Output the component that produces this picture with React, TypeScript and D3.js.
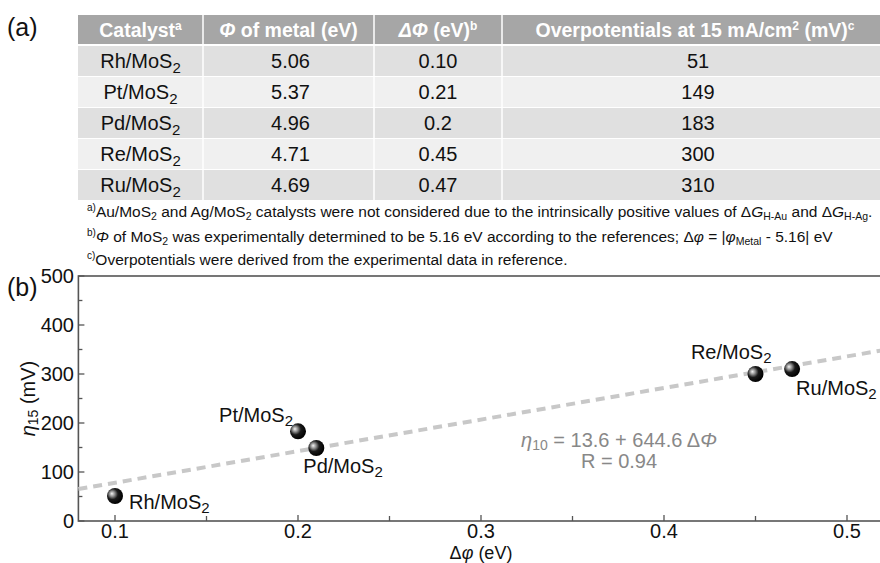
import React from "react";
import * as d3 from "d3";

// ---- table data ----
const catalystMetals = ["Rh", "Pt", "Pd", "Re", "Ru"];
const metalWorkFunctions = ["5.06", "5.37", "4.96", "4.71", "4.69"];
const deltaPhiLabels = ["0.10", "0.21", "0.2", "0.45", "0.47"];
const overpotentialLabels = ["51", "149", "183", "300", "310"];

// ---- scatter data ----
const pointNames = ["Rh", "Pt", "Pd", "Re", "Ru"];
const pointDeltaPhi = [0.1, 0.2, 0.21, 0.45, 0.47];
const pointEta = [51, 183, 149, 300, 310];

// linear fit
const fitIntercept = 13.6;
const fitSlope = 644.6;
const fitR = 0.94;

// axis ticks
const xMajorTicks = [0.1, 0.2, 0.3, 0.4, 0.5];
const xMinorTicks = [0.15, 0.25, 0.35, 0.45];
const yMajorTicks = [0, 100, 200, 300, 400, 500];
const yMinorTicks = [50, 150, 250, 350, 450];

// label anchoring for each point (layout only)
const labelLayout: Record<string, { dx: number; dy: number; anchor: "start" | "end" }> = {
  Rh: { dx: 14, dy: 13, anchor: "start" },
  Pt: { dx: -5, dy: -9, anchor: "end" },
  Pd: { dx: -13, dy: 25, anchor: "start" },
  Re: { dx: 16, dy: -15, anchor: "end" },
  Ru: { dx: 4, dy: 26, anchor: "start" },
};

const FONT = "'Liberation Sans', Arial, Helvetica, sans-serif";

const W = 880;
const H = 563;

// table geometry
const colEdges = [78, 203, 374, 502, 888];
const headerTop = 15;
const headerBottom = 44;
const rowTop = 46;
const rowH = 31;

const MoS2 = ({ metal, size, subSize, drop }: { metal: string; size: number; subSize: number; drop: number }) => (
  <>
    <tspan fontSize={size}>{metal}/MoS</tspan>
    <tspan fontSize={subSize} dy={drop}>2</tspan>
  </>
);

export default function App() {
  const x = d3.scaleLinear().domain([0.08, 0.52]).range([78.4, 883.6]);
  const y = d3.scaleLinear().domain([0, 500]).range([521, 276]);

  const fitLine = d3
    .line<number>()
    .x((d) => x(d))
    .y((d) => y(fitIntercept + fitSlope * d));

  const colCenters = colEdges.slice(0, -1).map((e, i) => (e + colEdges[i + 1]) / 2);
  const bodyColumns = [null, metalWorkFunctions, deltaPhiLabels, overpotentialLabels];

  return (
    <svg
      width={W}
      height={H}
      style={{ position: "absolute", left: 0, top: 0, background: "#fff" }}
      fontFamily={FONT}
    >
      <defs>
        <radialGradient id="ball" cx="0.38" cy="0.4" r="0.62" fx="0.3" fy="0.35">
          <stop offset="0" stopColor="#f4f4f4" />
          <stop offset="0.28" stopColor="#8a8a8a" />
          <stop offset="0.55" stopColor="#1a1a1a" />
          <stop offset="1" stopColor="#000" />
        </radialGradient>
      </defs>

      {/* ---------- (a) table ---------- */}
      <text x={7} y={36} fontSize={25} fill="#111">(a)</text>

      <rect x={colEdges[0]} y={headerTop} width={colEdges[4] - colEdges[0]} height={headerBottom - headerTop} fill="#a6a6a6" />
      {catalystMetals.map((_, i) => (
        <rect
          key={"row" + i}
          x={colEdges[0]}
          y={rowTop + i * rowH}
          width={colEdges[4] - colEdges[0]}
          height={rowH - 1}
          fill={i % 2 === 0 ? "#e0e0e0" : "#f0f0f0"}
        />
      ))}
      {colEdges.slice(1, -1).map((e) => (
        <line key={"sep" + e} x1={e} x2={e} y1={headerTop} y2={rowTop + 5 * rowH} stroke="#fff" strokeWidth={1.5} />
      ))}

      {/* header */}
      <g fill="#fff" fontWeight="bold" fontSize={19.5} textAnchor="middle">
        <text x={colCenters[0]} y={37}>
          Catalyst<tspan fontSize={12} dy={-7}>a</tspan>
        </text>
        <text x={colCenters[1]} y={37}>
          <tspan fontStyle="italic">Φ</tspan> of metal (eV)
        </text>
        <text x={colCenters[2]} y={37}>
          <tspan fontStyle="italic">ΔΦ</tspan> (eV)<tspan fontSize={12} dy={-7}>b</tspan>
        </text>
        <text x={colCenters[3]} y={37}>
          Overpotentials at 15 mA/cm<tspan fontSize={12} dy={-7}>2</tspan>
          <tspan dy={7}> (mV)</tspan>
          <tspan fontSize={12} dy={-7}>c</tspan>
        </text>
      </g>

      {/* body */}
      <g fill="#111" fontSize={20} textAnchor="middle">
        {catalystMetals.map((m, i) => {
          const base = rowTop + i * rowH + 22;
          return (
            <g key={"cells" + m}>
              <text x={colCenters[0]} y={base}>
                <MoS2 metal={m} size={20} subSize={15} drop={5} />
              </text>
              {bodyColumns.slice(1).map((col, c) => (
                <text key={c} x={colCenters[c + 1] + (c === 2 ? 3 : c === 0 ? 2 : 0)} y={base}>
                  {(col as string[])[i]}
                </text>
              ))}
            </g>
          );
        })}
      </g>

      {/* footnotes */}
      <g fill="#111" fontSize={15.5}>
        <text x={87} y={217}>
          <tspan fontSize={10} dy={-6}>a)</tspan>
          <tspan dy={6}>Au/MoS</tspan>
          <tspan fontSize={10.5} dy={3}>2</tspan>
          <tspan dy={-3}> and Ag/MoS</tspan>
          <tspan fontSize={10.5} dy={3}>2</tspan>
          <tspan dy={-3}> catalysts were not considered due to the intrinsically positive values of Δ</tspan>
          <tspan fontStyle="italic">G</tspan>
          <tspan fontSize={10.5} dy={3}>H-Au</tspan>
          <tspan dy={-3}> and  Δ</tspan>
          <tspan fontStyle="italic">G</tspan>
          <tspan fontSize={10.5} dy={3}>H-Ag</tspan>
          <tspan dy={-3}>.</tspan>
        </text>
        <text x={87} y={242}>
          <tspan fontSize={10} dy={-6}>b)</tspan>
          <tspan dy={6} fontStyle="italic">Φ</tspan>
          <tspan> of MoS</tspan>
          <tspan fontSize={10.5} dy={3}>2</tspan>
          <tspan dy={-3}> was experimentally determined to be 5.16 eV according to the references; Δ</tspan>
          <tspan fontStyle="italic">φ</tspan>
          <tspan> = |</tspan>
          <tspan fontStyle="italic">φ</tspan>
          <tspan fontSize={10.5} dy={3}>Metal</tspan>
          <tspan dy={-3}> - 5.16| eV</tspan>
        </text>
        <text x={87} y={265}>
          <tspan fontSize={10} dy={-6}>c)</tspan>
          <tspan dy={6}>Overpotentials were derived from the experimental data in reference.</tspan>
        </text>
      </g>

      {/* ---------- (b) scatter ---------- */}
      <text x={7} y={296} fontSize={25} fill="#111">(b)</text>

      {/* frame */}
      <rect
        x={x(0.08)}
        y={y(500)}
        width={x(0.52) - x(0.08)}
        height={y(0) - y(500)}
        fill="none"
        stroke="#555"
        strokeWidth={1.6}
      />

      {/* ticks */}
      <g stroke="#555" strokeWidth={1.3}>
        {xMajorTicks.map((t) => (
          <line key={"xM" + t} x1={x(t)} x2={x(t)} y1={y(0)} y2={y(0) - 6} />
        ))}
        {xMinorTicks.map((t) => (
          <line key={"xm" + t} x1={x(t)} x2={x(t)} y1={y(0)} y2={y(0) - 5} />
        ))}
        {yMajorTicks.map((t) => (
          <line key={"yM" + t} x1={x(0.08)} x2={x(0.08) + 6} y1={y(t)} y2={y(t)} />
        ))}
        {yMinorTicks.map((t) => (
          <line key={"ym" + t} x1={x(0.08)} x2={x(0.08) + 4} y1={y(t)} y2={y(t)} />
        ))}
      </g>

      <g fill="#111" fontSize={20}>
        {xMajorTicks.map((t) => (
          <text key={"xl" + t} x={x(t)} y={538} textAnchor="middle">
            {d3.format(".1f")(t)}
          </text>
        ))}
        {yMajorTicks.map((t) => (
          <text key={"yl" + t} x={74} y={y(t) + 7} textAnchor="end">
            {t}
          </text>
        ))}
      </g>

      {/* axis titles */}
      <text x={x(0.3)} y={559} fontSize={18} fill="#111" textAnchor="middle">
        Δ<tspan fontStyle="italic">φ</tspan> (eV)
      </text>
      <text transform={`translate(35, ${(y(0) + y(500)) / 2}) rotate(-90)`} fontSize={20} fill="#111" textAnchor="middle">
        <tspan fontStyle="italic">η</tspan>
        <tspan fontSize={14} dy={3}>15</tspan>
        <tspan dy={-3}> (mV)</tspan>
      </text>

      {/* fit line */}
      <path d={fitLine([0.08, 0.52]) ?? ""} fill="none" stroke="#c8c8c8" strokeWidth={4} strokeDasharray="9 6" />

      {/* fit equation */}
      <g fill="#888" fontSize={20} textAnchor="middle">
        <text x={619} y={447}>
          <tspan fontStyle="italic">η</tspan>
          <tspan fontSize={14} dy={3}>10</tspan>
          <tspan dy={-3}>
            {" "}= {fitIntercept} + {fitSlope} Δ
          </tspan>
          <tspan fontStyle="italic">Φ</tspan>
        </text>
        <text x={619} y={468}>R = {fitR}</text>
      </g>

      {/* points */}
      {pointNames.map((n, i) => (
        <circle key={"pt" + n} cx={x(pointDeltaPhi[i])} cy={y(pointEta[i])} r={8} fill="url(#ball)" />
      ))}

      {/* point labels */}
      <g fill="#111" fontSize={20}>
        {pointNames.map((n, i) => {
          const l = labelLayout[n];
          return (
            <text key={"lb" + n} x={x(pointDeltaPhi[i]) + l.dx} y={y(pointEta[i]) + l.dy} textAnchor={l.anchor}>
              <MoS2 metal={n} size={20} subSize={15} drop={4} />
            </text>
          );
        })}
      </g>
    </svg>
  );
}
